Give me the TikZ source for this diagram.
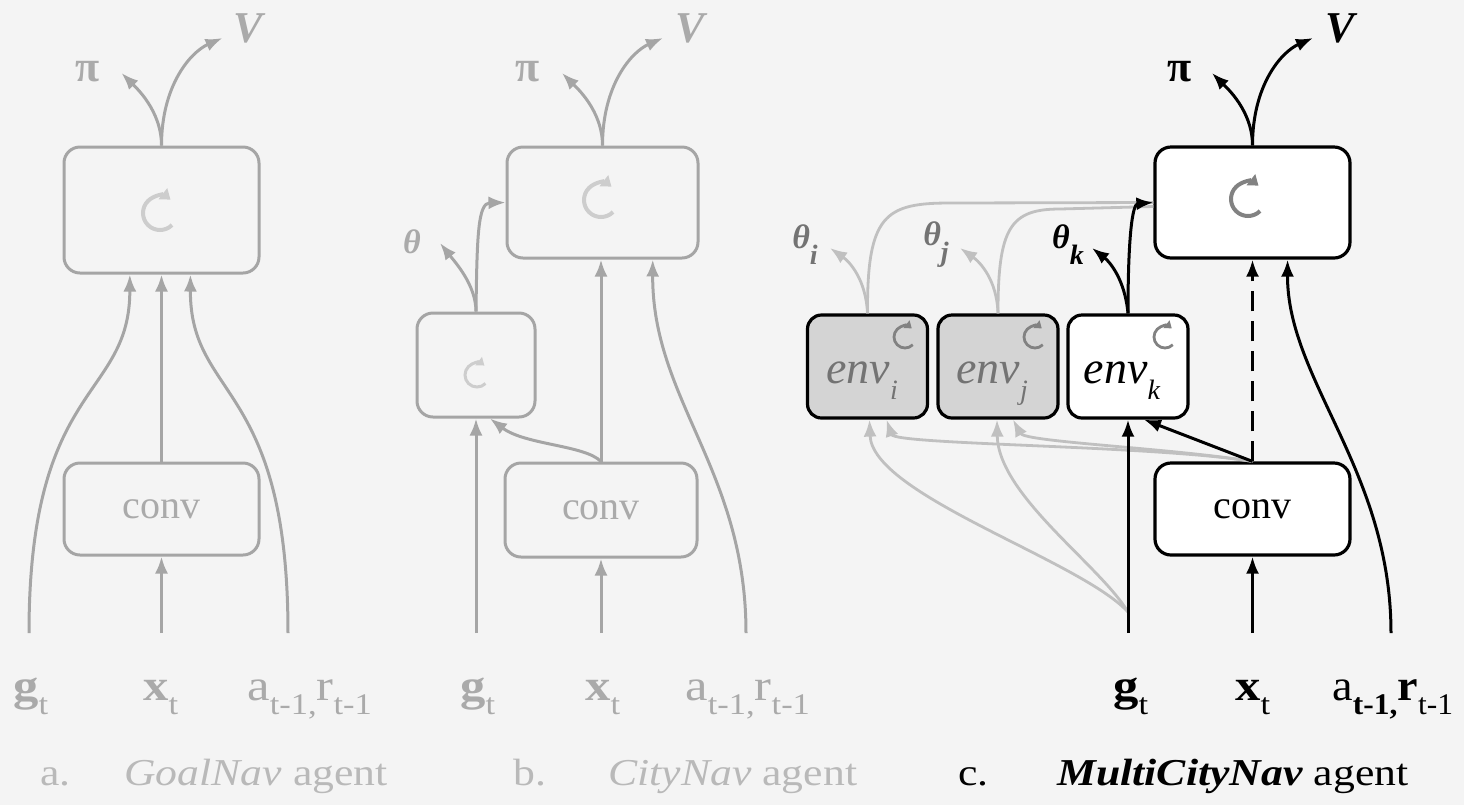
\documentclass[tikz,border=0pt]{standalone}
\usepackage{fontspec}
\usepackage{graphicx}
\setmainfont{Liberation Serif}
\usetikzlibrary{arrows.meta,calc}
\definecolor{bgc}{RGB}{244,244,244}
\definecolor{ga}{RGB}{165,165,165}
\definecolor{gtx}{RGB}{170,170,170}
\definecolor{gcap}{RGB}{185,185,185}
\definecolor{gsym}{RGB}{205,205,205}
\definecolor{gl}{RGB}{192,192,192}
\definecolor{envfill}{RGB}{212,212,212}
\definecolor{envtx}{RGB}{115,115,115}
\definecolor{csym}{RGB}{130,130,130}
\newcommand{\lsub}[1]{\raisebox{-7pt}{\fontsize{15}{15}\selectfont #1}}
\newcommand{\esub}[1]{\raisebox{-8pt}{\fontsize{14}{14}\selectfont\itshape #1}}
\newcommand{\hs}[1]{\scalebox{1.15}[1]{#1}}
\tikzset{pics/recur/.style n args={3}{code={%
  \draw[draw=#2,line width=#3pt,-{Triangle[length=0pt 2.4,width=0pt 3.4]}]
    (-45:#1pt) arc[start angle=-45,end angle=-308,radius=#1pt];}}}
\begin{document}
\begin{tikzpicture}[x=0.5pt,y=-0.5pt,
  boxA/.style={draw=ga,line width=1.5pt,rounded corners=8pt,inner sep=0pt},
  boxC/.style={draw=black,line width=1.6pt,rounded corners=8pt,inner sep=0pt,fill=white},
  envbox/.style={draw=black,line width=1.6pt,rounded corners=7pt,inner sep=0pt,minimum width=60pt,minimum height=51.5pt},
  envtxt/.style={anchor=base,inner sep=0pt,font=\fontsize{23}{23}\selectfont\itshape},
  lineA/.style={draw=ga,line width=1.5pt},
  lineC/.style={draw=black,line width=1.5pt},
  lineL/.style={draw=gl,line width=1.4pt},
  arr/.style={-{Latex[length=8.5pt,width=6.5pt]}},
  lbl/.style={anchor=base west,inner sep=0pt,font=\fontsize{22}{22}\selectfont},
  captxt/.style={anchor=base west,inner sep=0pt,font=\fontsize{19}{19}\selectfont},
  convtxt/.style={font=\fontsize{20}{20}\selectfont},
  outlbl/.style={inner sep=0pt,font=\fontsize{22}{22}\selectfont},
  thlbl/.style={inner sep=0pt,font=\fontsize{17}{17}\selectfont\bfseries\itshape},
]
\fill[bgc] (0,0) rectangle (1464,805);
\useasboundingbox (0,0) rectangle (1464,805);

% ---------------- panel a ----------------
\node[boxA,minimum width=97.5pt,minimum height=63pt] (Alstm) at (161.5,210) {};
\pic at (160,213) {recur={8.5}{gsym}{2}};
\node[boxA,minimum width=97.5pt,minimum height=46pt,convtxt,text=gtx] (Aconv) at (161.5,509) {conv};
\coordinate (Ag) at (29,633);
\coordinate (Ax) at (161.5,633);
\coordinate (Ar) at (288,633);
\coordinate (Api) at (121.5,73);
\coordinate (AV) at (222.5,38);
\draw[lineA,arr] (Ax) -- (Aconv.south);
\draw[lineA,arr] (Aconv.north) -- (Alstm.south);
\draw[lineA,arr] (Ag) .. controls (29,380) and (130,400) .. ($(Alstm.south west)!0.34!(Alstm.south east)$);
\draw[lineA,arr] (Ar) .. controls (288,380) and (190,400) .. ($(Alstm.south west)!0.646!(Alstm.south east)$);
\draw[lineA,arr] (Alstm.north) .. controls +(0,-35) and +(14,14) .. (Api);
\draw[lineA,arr] (Alstm.north) .. controls +(0,-60) and +(-32,14) .. (AV);
\node[outlbl,text=gtx] (ApiL) at (88,72) {\bfseries π};
\node[outlbl,text=gtx] (AVL) at (248,28) {\bfseries\itshape V};
\node[lbl,text=gtx] (AgL) at (13,700) {\hs{\textbf{g}\lsub{t}}};
\node[lbl,text=gtx] (AxL) at (143,700) {\hs{\textbf{x}\lsub{t}}};
\node[lbl,text=gtx] (AarL) at (247,700) {\hs{a\lsub{t-1,}r\lsub{t-1}}};
\node[captxt,text=gcap] (AcapN) at (40,785) {\hs{a.}};
\node[captxt,text=gcap] (Acap) at (124,785) {\hs{\textit{GoalNav} agent}};

% ---------------- panel b ----------------
\node[boxA,minimum width=95.5pt,minimum height=55.5pt] (Blstm) at (602.5,202.5) {};
\pic at (601,200) {recur={8.5}{gsym}{2}};
\node[boxA,minimum width=59pt,minimum height=52pt] (Bsmall) at (476,365) {};
\pic at (477,375) {recur={6}{gsym}{1.5}};
\node[boxA,minimum width=96pt,minimum height=47pt,convtxt,text=gtx] (Bconv) at (601,510) {conv};
\coordinate (Bg) at (476,633);
\coordinate (Bx) at (601,633);
\coordinate (Br) at (746,633);
\coordinate (Bpi) at (562,73);
\coordinate (BV) at (663,38);
\coordinate (Bth) at (440,243);
\draw[lineA,arr] (Bg) -- (Bsmall.south);
\draw[lineA,arr] (Bx) -- (Bconv.south);
\draw[lineA,arr] (Bconv.north) -- (Bconv.north |- Blstm.south);
\draw[lineA,arr] (Bconv.north) .. controls (585,445) and (525,445) .. ($(Bsmall.south)+(14,0)$);
\draw[lineA,arr] (Br) .. controls (746,470) and (652,400) .. ($(Blstm.south west)!0.759!(Blstm.south east)$);
\draw[lineA,arr] (Bsmall.north) .. controls (476,285) and (455,262) .. (Bth);
\draw[lineA,arr] (Bsmall.north) .. controls (477,235) and (478,203) .. (Blstm.west);
\draw[lineA,arr] (Blstm.north) .. controls +(0,-35) and +(14,14) .. (Bpi);
\draw[lineA,arr] (Blstm.north) .. controls +(0,-60) and +(-32,14) .. (BV);
\node[outlbl,text=gtx] (BpiL) at (528,72) {\bfseries π};
\node[outlbl,text=gtx] (BVL) at (690,28) {\bfseries\itshape V};
\node[thlbl,text=gtx] (BthL) at (412,242) {θ};
\node[lbl,text=gtx] (BgL) at (460,700) {\hs{\textbf{g}\lsub{t}}};
\node[lbl,text=gtx] (BxL) at (585,700) {\hs{\textbf{x}\lsub{t}}};
\node[lbl,text=gtx] (BarL) at (685,700) {\hs{a\lsub{t-1,}r\lsub{t-1}}};
\node[captxt,text=gcap] (BcapN) at (513,785) {\hs{b.}};
\node[captxt,text=gcap] (Bcap) at (608,785) {\hs{\textit{CityNav} agent}};

% ---------------- panel c ----------------
\node[boxC,minimum width=97.5pt,minimum height=55.5pt] (Clstm) at (1252.5,202.5) {};
\pic at (1248,199) {recur={8.5}{csym}{2}};
\node[boxC,minimum width=97.5pt,minimum height=46pt,convtxt] (Cconv) at (1252.5,509) {conv};
\node[envbox,fill=envfill] (Ei) at (867.5,366.5) {};
\node[envbox,fill=envfill] (Ej) at (998,366.5) {};
\node[envbox,fill=white] (Ek) at (1128,366.5) {};
\node[envtxt,text=envtx] (EiT) at (862,383) {env\esub{i}};
\node[envtxt,text=envtx] (EjT) at (992,383) {env\esub{j}};
\node[envtxt,text=black] (EkT) at (1122,383) {env\esub{k}};
\pic at (905,337) {recur={5.5}{csym}{1.4}};
\pic at (1035,337) {recur={5.5}{csym}{1.4}};
\pic at (1165,337) {recur={5.5}{csym}{1.4}};
\coordinate (Cg) at (1128,633);
\coordinate (Cgs) at (1128,612);
\coordinate (Cx) at (1252.5,633);
\coordinate (Cr) at (1391,633);
\coordinate (Cpi) at (1212,73);
\coordinate (CV) at (1313,38);
\coordinate (Thi) at (830,248);
\coordinate (Thj) at (960,248);
\coordinate (Thk) at (1092,248);
% light grey links
\draw[lineL,arr] (Cgs) .. controls (1080,560) and (872,495) .. ($(Ei.south)+(2,0)$);
\draw[lineL,arr] (Cgs) .. controls (1100,565) and (998,495) .. ($(Ej.south)+(-1,0)$);
\draw[lineL,arr] (Cconv.north) .. controls (1150,445) and (895,445) .. ($(Ei.south)+(19,0)$);
\draw[lineL,arr] (Cconv.north) .. controls (1170,448) and (1025,442) .. ($(Ej.south)+(15,0)$);
\draw[lineL,arr] (Ei.north) .. controls (866,280) and (850,262) .. (Thi);
\draw[lineL,arr] (Ej.north) .. controls (997,280) and (980,262) .. (Thj);
\draw[lineL] (Ei.north) .. controls (867,215) and (885,203) .. (950,203) -- ($(Clstm.west)+(0,0)$);
\draw[lineL] (Ej.north) .. controls (998,228) and (1010,209) .. (1060,209) -- ($(Clstm.west)+(0,4)$);
% black links
\draw[lineC,arr] (Cg) -- (Ek.south);
\draw[lineC,arr] (Cconv.north) -- ($(Ek.south)+(16,0)$);
\draw[lineC,arr,dash pattern=on 10pt off 5pt] (Cconv.north) -- (Clstm.south);
\draw[lineC,arr] (Cx) -- (Cconv.south);
\draw[lineC,arr] (Cr) .. controls (1391,470) and (1287,380) .. ($(Clstm.south west)!0.677!(Clstm.south east)$);
\draw[lineC,arr] (Ek.north) .. controls (1125,280) and (1110,262) .. (Thk);
\draw[lineC,arr] (Ek.north) .. controls (1128,240) and (1132,204) .. (Clstm.west);
\draw[lineC,arr] (Clstm.north) .. controls +(0,-35) and +(14,14) .. (Cpi);
\draw[lineC,arr] (Clstm.north) .. controls +(0,-60) and +(-32,14) .. (CV);
\node[outlbl,text=black] (CpiL) at (1180,72) {\bfseries π};
\node[outlbl,text=black] (CVL) at (1340,28) {\bfseries\itshape V};
\node[thlbl,text=envtx] (ThiL) at (805,245) {θ\esub{i}};
\node[thlbl,text=envtx] (ThjL) at (936,245) {θ\esub{j}};
\node[thlbl,text=black] (ThkL) at (1068,245) {θ\esub{k}};
\node[lbl,text=black] (CgL) at (1113,700) {\hs{\textbf{g}\lsub{t}}};
\node[lbl,text=black] (CxL) at (1235,700) {\hs{\textbf{x}\lsub{t}}};
\node[lbl,text=black] (CarL) at (1332,700) {\scalebox{1.05}[1]{a\lsub{\bfseries t-1,}\textbf{r}\lsub{t-1}}};
\node[captxt,text=black] (CcapN) at (958,785) {\hs{c.}};
\node[captxt,text=black] (Ccap) at (1057,785) {\hs{\textbf{\textit{MultiCityNav}} agent}};
\end{tikzpicture}
\end{document}
